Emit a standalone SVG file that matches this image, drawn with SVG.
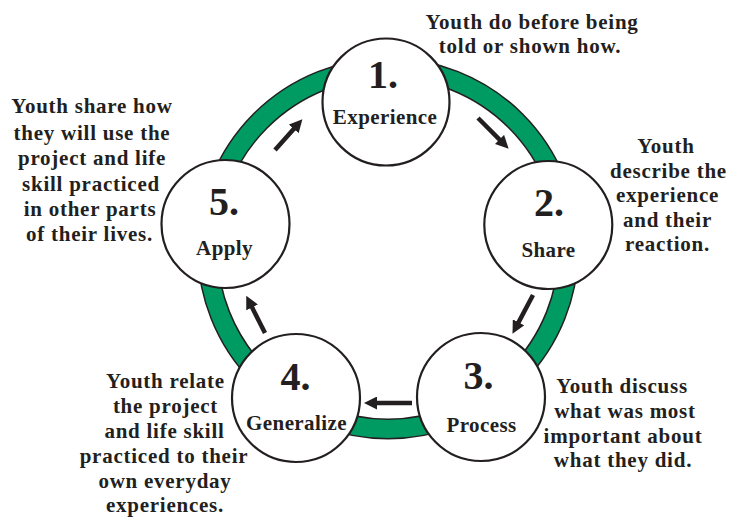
<svg xmlns="http://www.w3.org/2000/svg" width="729" height="518" viewBox="0 0 729 518">
<style>
text{font-family:"Liberation Serif","Times New Roman",serif;font-weight:bold;fill:#231f20;text-anchor:middle}
.t{font-size:21px;letter-spacing:0.75px}
.num{font-size:40px}
.lbl{font-size:21px;letter-spacing:0.4px}
.node{fill:#fff;stroke:#231f20;stroke-width:2.2}
.arr{stroke:#231f20;stroke-width:4.5;fill:none;marker-end:url(#ah)}
</style>
<defs>
<marker id="ah" markerUnits="userSpaceOnUse" markerWidth="13" markerHeight="13" viewBox="0 0 13 13" refX="4" refY="6.5" orient="auto">
<path d="M0,0 L13,6.5 L0,13 z" fill="#231f20"/>
</marker>
</defs>
<rect width="729" height="518" fill="#fff"/>
<g id="cycle-ring">
<circle cx="388" cy="248.5" r="180.5" fill="none" stroke="#231f20" stroke-width="21"/>
<circle cx="388" cy="248.5" r="180.5" fill="none" stroke="#009a63" stroke-width="18"/>
</g>
<g id="connectors">
<line class="arr" x1="478" y1="118" x2="502.3" y2="142.3"/>
<line class="arr" x1="533" y1="295" x2="516.7" y2="325.9"/>
<line class="arr" x1="412" y1="403" x2="373" y2="403"/>
<line class="arr" x1="265" y1="333" x2="250.3" y2="303.8"/>
<line class="arr" x1="275" y1="150" x2="296.4" y2="126"/>
</g>
<g id="node-1">
<circle class="node" cx="386" cy="102" r="63.5"/>
<text class="num" x="383" y="88">1.</text>
<text class="lbl" x="385" y="124">Experience</text>
</g>
<g id="node-2">
<circle class="node" cx="548.3" cy="225" r="64"/>
<text class="num" x="549" y="216">2.</text>
<text class="lbl" x="548.5" y="256.5">Share</text>
</g>
<g id="node-3">
<circle class="node" cx="481" cy="397" r="64"/>
<text class="num" x="478.5" y="388.5">3.</text>
<text class="lbl" x="481.5" y="431.5">Process</text>
</g>
<g id="node-4">
<circle class="node" cx="296" cy="398" r="64"/>
<text class="num" x="295.5" y="389.5">4.</text>
<text class="lbl" x="296.5" y="430">Generalize</text>
</g>
<g id="node-5">
<circle class="node" cx="225.5" cy="224" r="64"/>
<text class="num" x="224" y="215">5.</text>
<text class="lbl" x="224.5" y="255">Apply</text>
</g>
<g id="desc-1">
<text class="t" x="532" y="29">Youth do before being</text>
<text class="t" x="530" y="53">told or shown how.</text>
</g>
<g id="desc-2">
<text class="t" x="666" y="153">Youth</text>
<text class="t" x="668.5" y="178">describe the</text>
<text class="t" x="667.5" y="202">experience</text>
<text class="t" x="667.5" y="226.5">and their</text>
<text class="t" x="667.5" y="250.5">reaction.</text>
</g>
<g id="desc-3">
<text class="t" x="622" y="393">Youth discuss</text>
<text class="t" x="625" y="418">what was most</text>
<text class="t" x="623" y="442.5">important about</text>
<text class="t" x="623" y="467">what they did.</text>
</g>
<g id="desc-4">
<text class="t" x="165.5" y="387.5">Youth relate</text>
<text class="t" x="165.5" y="413">the project</text>
<text class="t" x="164.5" y="438">and life skill</text>
<text class="t" x="164" y="463">practiced to their</text>
<text class="t" x="165" y="488">own everyday</text>
<text class="t" x="165" y="511.5">experiences.</text>
</g>
<g id="desc-5">
<text class="t" x="92" y="113">Youth share how</text>
<text class="t" x="92" y="139.5">they will use the</text>
<text class="t" x="92" y="165">project and life</text>
<text class="t" x="91" y="190.5">skill practiced</text>
<text class="t" x="90" y="216">in other parts</text>
<text class="t" x="89.5" y="241">of their lives.</text>
</g>
</svg>
